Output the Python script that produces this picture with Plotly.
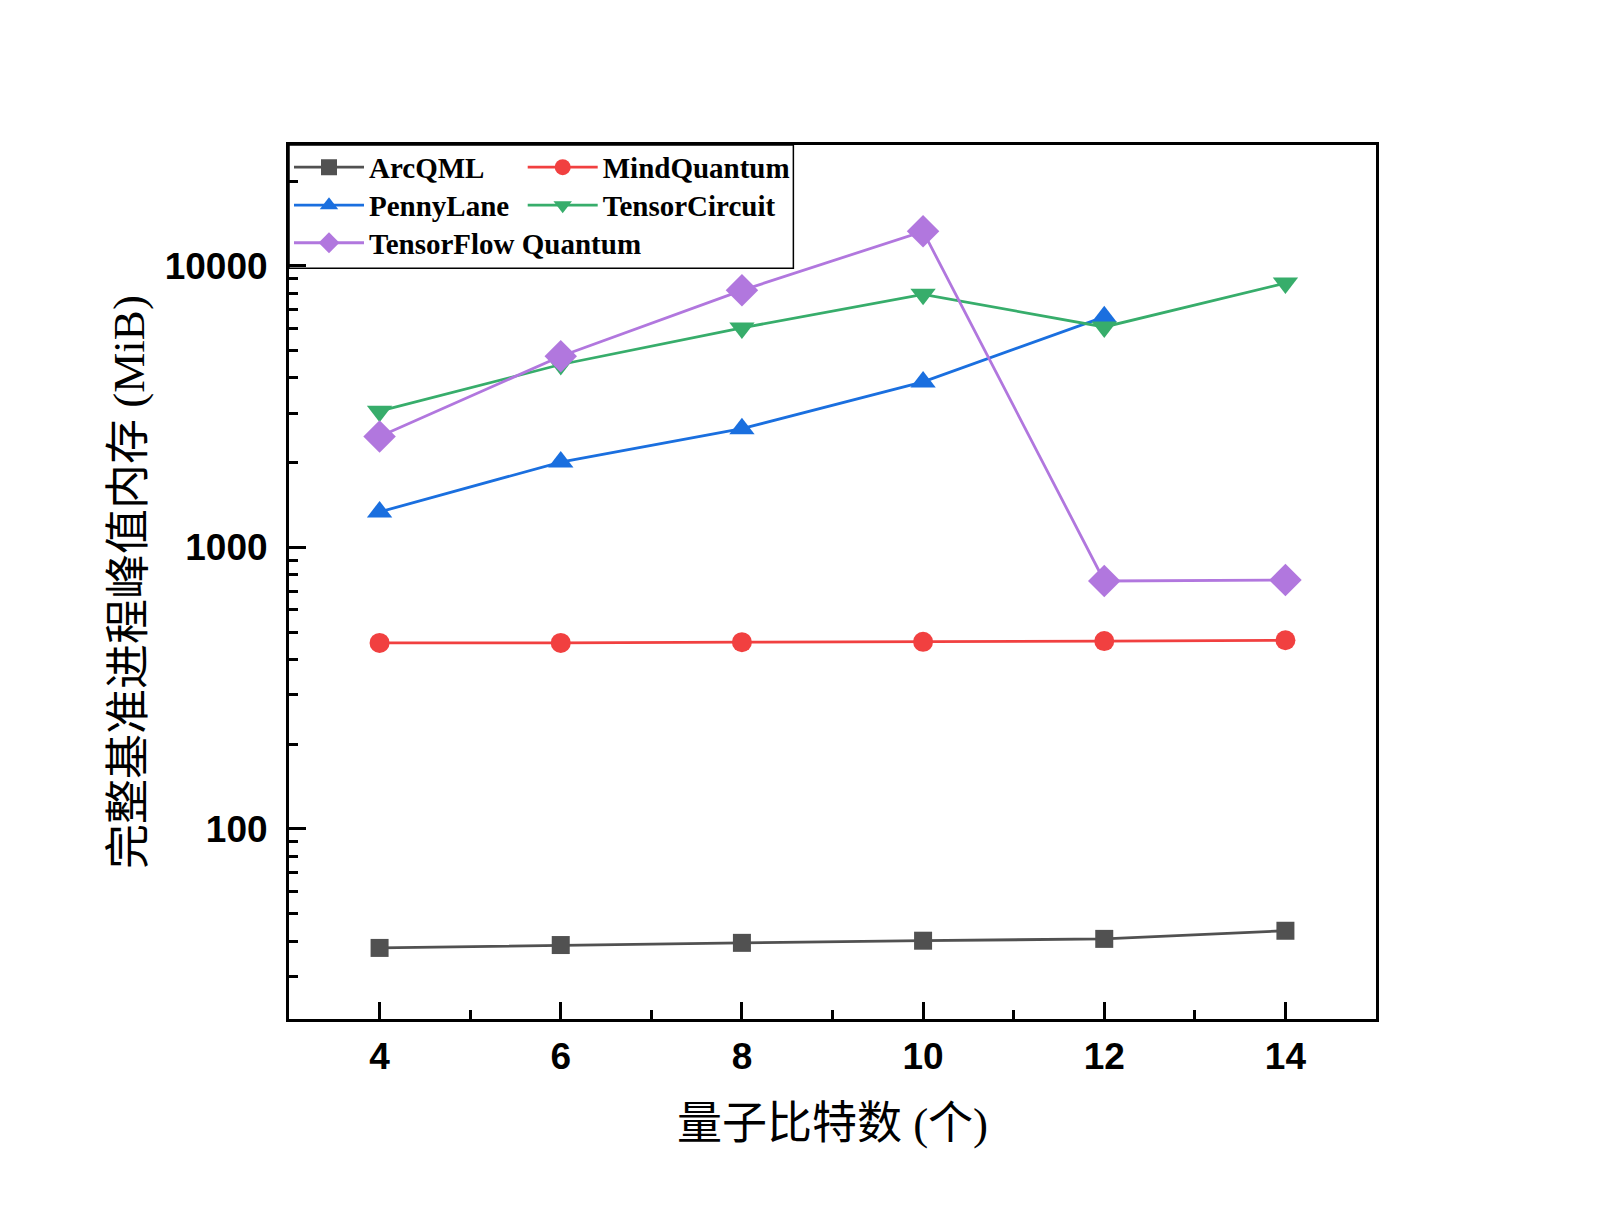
import plotly.graph_objects as go

qubits = [4, 6, 8, 10, 12, 14]
arcqml = [37.8, 38.7, 39.4, 40.1, 40.7, 43.5]
mindquantum = [458, 458, 461, 462, 465, 468]
pennylane = [1337, 2010, 2643, 3873, 6593, None]
tensorcircuit = [3048, 4466, 6025, 7930, 6070, 8690]
tfq = [2478, 4777, 8190, 13270, 760, 766]

names = ["ArcQML", "MindQuantum", "PennyLane", "TensorCircuit", "TensorFlow Quantum"]
series = [arcqml, mindquantum, pennylane, tensorcircuit, tfq]
colors = ["#515151", "#F14040", "#1A6FDF", "#37AD6B", "#B177DE"]
symbols = ["square", "circle", "triangle-up", "triangle-down", "diamond"]
msizes = [18, 20, 22, 22, 25]
legend_ids = ["legend", "legend2", "legend3", "legend4", "legend5"]

y_ticks = [100, 1000, 10000]
y_ticktext = ["100", "1000", "10000"]
x_ticks = [4, 6, 8, 10, 12, 14]

serif = "Liberation Serif, Noto Sans CJK SC"
sans = "Liberation Sans, Arial"

fig = go.Figure()
for nm, ys, c, s, ms, lg in zip(names, series, colors, symbols, msizes, legend_ids):
    fig.add_trace(go.Scatter(
        x=qubits, y=ys, name=nm, mode="lines+markers",
        line=dict(color=c, width=2.8),
        marker=dict(symbol=s, size=ms, color=c),
        legend=lg, connectgaps=False,
    ))

minor_y = []
for dec in [10, 100, 1000, 10000]:
    for k in range(2, 10):
        minor_y.append(dec * k)


def leg(x, y):
    return dict(
        orientation="v", x=x, xanchor="left", y=y, yanchor="middle",
        font=dict(family=serif, size=29, color="black", weight="bold"),
        bgcolor="rgba(0,0,0,0)", borderwidth=0, itemwidth=70,
    )


fig.update_layout(
    width=1600, height=1225,
    paper_bgcolor="white", plot_bgcolor="white",
    margin=dict(l=281, r=232, t=137, b=214),
    showlegend=True,
    legend=leg(0.0, 0.9745),
    legend2=leg(0.215, 0.9745),
    legend3=leg(0.0, 0.931),
    legend4=leg(0.215, 0.931),
    legend5=leg(0.0, 0.888),
    shapes=[dict(type="rect", xref="paper", yref="paper", x0=0, x1=0.464, y0=0.859, y1=1.0,
                 line=dict(color="black", width=1.5), fillcolor="rgba(0,0,0,0)", layer="above")],
)

fig.update_xaxes(
    range=[3, 15], tickvals=x_ticks, ticks="inside", ticklen=17, tickwidth=3,
    tickcolor="black", showline=True, linewidth=3, linecolor="black", mirror=True,
    showgrid=False, zeroline=False,
    tickfont=dict(family=sans, size=37, color="black", weight="bold"),
    ticklabelstandoff=3,
    minor=dict(tickvals=[5, 7, 9, 11, 13], ticks="inside", ticklen=9, tickwidth=3, tickcolor="black", showgrid=False),
    title=dict(text="量子比特数 (个)", font=dict(family=serif, size=45, color="black"), standoff=32),
)
fig.update_yaxes(
    type="log", range=[1.325, 4.4296],
    tickvals=y_ticks, ticktext=y_ticktext, ticks="inside", ticklen=17, tickwidth=3,
    tickcolor="black", showline=True, linewidth=3, linecolor="black", mirror=True,
    showgrid=False, zeroline=False,
    tickfont=dict(family=sans, size=37, color="black", weight="bold"),
    ticklabelstandoff=11,
    minor=dict(tickvals=minor_y, ticks="inside", ticklen=9, tickwidth=3, tickcolor="black", showgrid=False),
    title=dict(text="完整基准进程峰值内存 (MiB)", font=dict(family=serif, size=45, color="black"), standoff=6),
)

fig.write_html("out.html")
